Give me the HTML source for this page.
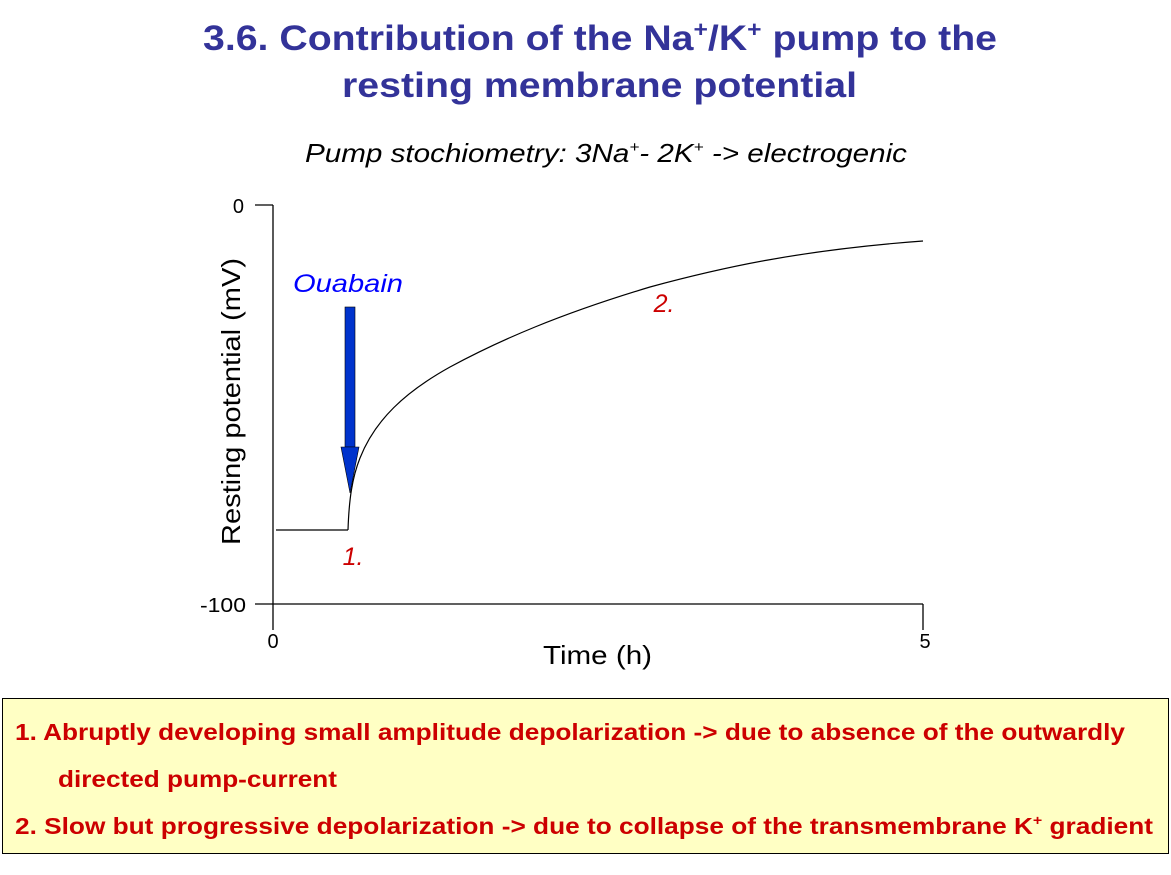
<!DOCTYPE html>
<html><head><meta charset="utf-8"><style>
body{margin:0;width:1171px;height:875px;background:#fff;overflow:hidden;position:relative;font-family:"Liberation Sans",Arial,sans-serif}
</style></head><body>
<svg width="1171" height="875" style="position:absolute;left:0;top:0" font-family="Liberation Sans, Arial, sans-serif">
<text x="203" y="50" font-size="35" font-weight="bold" fill="#333399" textLength="794" lengthAdjust="spacingAndGlyphs">3.6. Contribution of the Na<tspan font-size="22" dy="-13">+</tspan><tspan dy="13">/K</tspan><tspan font-size="22" dy="-13">+</tspan><tspan dy="13"> pump to the</tspan></text>
<text x="342" y="97" font-size="35" font-weight="bold" fill="#333399" textLength="515" lengthAdjust="spacingAndGlyphs">resting membrane potential</text>
<text x="305" y="162" font-size="26" font-style="italic" fill="#000" textLength="602" lengthAdjust="spacingAndGlyphs">Pump stochiometry: 3Na<tspan font-size="15" dy="-10">+</tspan><tspan dy="10">- 2K</tspan><tspan font-size="15" dy="-10">+</tspan><tspan dy="10"> -&gt; electrogenic</tspan></text>
<g stroke="#000" stroke-width="1.3" fill="none">
<line x1="273" y1="205" x2="273" y2="630"/>
<line x1="255" y1="205" x2="273" y2="205"/>
<line x1="255" y1="604" x2="923" y2="604"/>
<line x1="923" y1="604" x2="923" y2="630"/>
<line x1="276" y1="530" x2="348" y2="530"/>
<path d="M348,530 C349,500 352,478 360,458 C375,420 405,392 450,367 C500,340 560,314 650,287 C720,268 800,250 923,241" stroke-width="1.2"/>
</g>
<text x="244" y="213" font-size="20" text-anchor="end">0</text>
<text x="246" y="612" font-size="20" text-anchor="end" textLength="46" lengthAdjust="spacingAndGlyphs">-100</text>
<text x="273" y="648" font-size="20" text-anchor="middle">0</text>
<text x="925" y="648" font-size="20" text-anchor="middle">5</text>
<text x="543" y="664" font-size="26" textLength="109" lengthAdjust="spacingAndGlyphs">Time (h)</text>
<text transform="translate(240,545) rotate(-90)" font-size="26" textLength="287" lengthAdjust="spacingAndGlyphs">Resting potential (mV)</text>
<text x="293" y="292" font-size="25" font-style="italic" fill="#0000ff" textLength="110" lengthAdjust="spacingAndGlyphs">Ouabain</text>
<rect x="345" y="307" width="10" height="140" fill="#0033cc" stroke="#000" stroke-width="0.6"/>
<polygon points="341,447 359,447 350,493" fill="#0033cc" stroke="#000" stroke-width="0.6"/>
<text x="353" y="565" font-size="25" font-style="italic" fill="#cc0000" text-anchor="middle">1.</text>
<text x="664" y="312" font-size="25" font-style="italic" fill="#cc0000" text-anchor="middle">2.</text>
<rect x="2.5" y="698.5" width="1166" height="155" fill="#ffffc4" stroke="#000" stroke-width="1"/>
<g font-size="23" font-weight="bold" fill="#cc0000">
<text x="15" y="740" textLength="1110" lengthAdjust="spacingAndGlyphs">1. Abruptly developing small amplitude depolarization -&gt; due to absence of the outwardly</text>
<text x="58" y="787" textLength="279" lengthAdjust="spacingAndGlyphs">directed pump-current</text>
<text x="15" y="834" textLength="1138" lengthAdjust="spacingAndGlyphs">2. Slow but progressive depolarization -&gt; due to collapse of the transmembrane K<tspan font-size="14" dy="-9">+</tspan><tspan dy="9"> gradient</tspan></text>
</g>
</svg>
</body></html>
